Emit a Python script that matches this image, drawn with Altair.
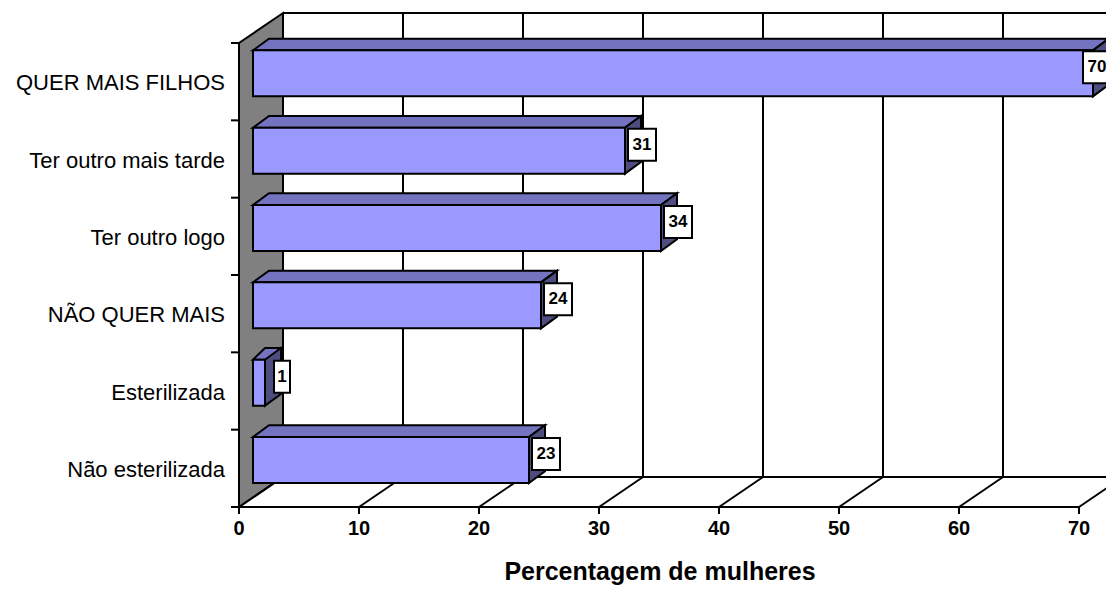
import altair as alt
import pandas as pd

categories = ["Não esterilizada", "Esterilizada", "NÃO QUER MAIS", "Ter outro logo", "Ter outro mais tarde", "QUER MAIS FILHOS"]
values = [23, 1, 24, 34, 31, 70]
x_ticks = [0, 10, 20, 30, 40, 50, 60, 70]
x_title = "Percentagem de mulheres"

# oblique projection, in axis units (percent along x, category rows along y)
PX = 12.0
ROW = 77.33
WALL_X = 44 / PX
WALL_Y = 30 / ROW
INSET = 14 / PX
BAR_DX = 16 / PX
BAR_DY = 11.7 / ROW
FACE_LOW = 24 / ROW
FACE_HIGH = 70 / ROW
LABEL_LIMIT = 858 / PX
BLACK = "#000000"
FONT = "Liberation Sans"

xs = alt.Scale(domain=[-231 / PX, (1098 - 231) / PX], nice=False, zero=False)
ys = alt.Scale(domain=[-78 / ROW, 499 / ROW], nice=False, zero=False)


def X(f):
    return alt.X(f, type="quantitative", scale=xs, axis=None)


def Y(f):
    return alt.Y(f, type="quantitative", scale=ys, axis=None, stack=None)


n = len(categories)
top_rows, side_rows, front_rows, box_rows = [], [], [], []
for i, (c, v) in enumerate(zip(categories, values)):
    lo, hi = i + FACE_LOW, i + FACE_HIGH
    x0, x1 = INSET, INSET + v
    top_rows += [
        dict(row=i, x=x0, y=hi, y2=hi),
        dict(row=i, x=x0 + BAR_DX, y=hi, y2=hi + BAR_DY),
        dict(row=i, x=x1, y=hi, y2=hi + BAR_DY),
        dict(row=i, x=x1 + BAR_DX, y=hi + BAR_DY, y2=hi + BAR_DY),
    ]
    side_rows += [
        dict(row=i, x=x1, y=lo, y2=hi),
        dict(row=i, x=x1 + BAR_DX, y=lo + BAR_DY, y2=hi + BAR_DY),
    ]
    front_rows.append(dict(x=x0, x2=x1, y=lo, y2=hi))
    half = (8 if v < 10 else 14) / PX
    cx = min(x1 + 17 / PX, LABEL_LIMIT)
    box_rows.append(dict(x=cx - half, x2=cx + half, y=hi - 33 / ROW, y2=hi - 1 / ROW,
                         cx=cx, cy=hi - 17 / ROW, label=str(v)))

wall = pd.DataFrame([
    dict(x=0, y=0, y2=n),
    dict(x=WALL_X, y=WALL_Y, y2=n + WALL_Y),
])

rules = []
# back wall grid lines and back floor / top edges
for t in x_ticks:
    rules.append(dict(x=t + WALL_X, x2=t + WALL_X, y=WALL_Y, y2=n + WALL_Y))
    rules.append(dict(x=t, x2=t + WALL_X, y=0, y2=WALL_Y))
    rules.append(dict(x=t, x2=t, y=0, y2=-7 / ROW))
rules.append(dict(x=WALL_X, x2=70 + WALL_X, y=WALL_Y, y2=WALL_Y))
rules.append(dict(x=WALL_X, x2=70 + WALL_X, y=n + WALL_Y, y2=n + WALL_Y))
rules.append(dict(x=0, x2=70, y=0, y2=0))
for r in range(n + 1):
    rules.append(dict(x=-8 / PX, x2=0, y=r, y2=r))
rules = pd.DataFrame(rules)

wall_l = alt.Chart(wall).mark_area(orient="vertical", color="#808080", stroke=BLACK, strokeWidth=2).encode(
    x=X("x"), y=Y("y"), y2="y2")
rule_l = alt.Chart(rules).mark_rule(color=BLACK, strokeWidth=2).encode(
    x=X("x"), x2="x2", y=Y("y"), y2="y2")
top_l = alt.Chart(pd.DataFrame(top_rows)).mark_area(orient="vertical", color="#7373BF", stroke=BLACK, strokeWidth=2).encode(
    x=X("x"), y=Y("y"), y2="y2", detail="row:N")
side_l = alt.Chart(pd.DataFrame(side_rows)).mark_area(orient="vertical", color="#4D4D80", stroke=BLACK, strokeWidth=2).encode(
    x=X("x"), y=Y("y"), y2="y2", detail="row:N")
front_l = alt.Chart(pd.DataFrame(front_rows)).mark_rect(color="#9999FF", stroke=BLACK, strokeWidth=2).encode(
    x=X("x"), x2="x2", y=Y("y"), y2="y2")
boxes = pd.DataFrame(box_rows)
box_l = alt.Chart(boxes).mark_rect(color="#FFFFFF", stroke=BLACK, strokeWidth=2).encode(
    x=X("x"), x2="x2", y=Y("y"), y2="y2")
box_t = alt.Chart(boxes).mark_text(font=FONT, fontSize=17, fontWeight="bold", color=BLACK).encode(
    x=X("cx"), y=Y("cy"), text="label:N")

cat_df = pd.DataFrame(dict(label=categories, x=[-14 / PX] * n, y=[i + 37 / ROW for i in range(n)]))
cat_t = alt.Chart(cat_df).mark_text(font=FONT, fontSize=22, align="right", color="#000000").encode(
    x=X("x"), y=Y("y"), text="label:N")
tick_df = pd.DataFrame(dict(label=[str(t) for t in x_ticks], x=x_ticks, y=[-22 / ROW] * len(x_ticks)))
tick_t = alt.Chart(tick_df).mark_text(font=FONT, fontSize=20, fontWeight="bold", color=BLACK).encode(
    x=X("x"), y=Y("y"), text="label:N")
title_df = pd.DataFrame(dict(label=[x_title], x=[421 / PX], y=[-65 / ROW]))
title_t = alt.Chart(title_df).mark_text(font=FONT, fontSize=25, fontWeight="bold", color=BLACK).encode(
    x=X("x"), y=Y("y"), text="label:N")

chart = alt.layer(wall_l, rule_l, top_l, side_l, front_l, box_l, box_t, cat_t, tick_t, title_t).properties(
    width=1098, height=577, padding=0, autosize=alt.AutoSizeParams(type="none"), background="#FFFFFF"
).configure_view(stroke=None)

chart.save("out.html", embed_options={"renderer": "svg", "actions": False})
